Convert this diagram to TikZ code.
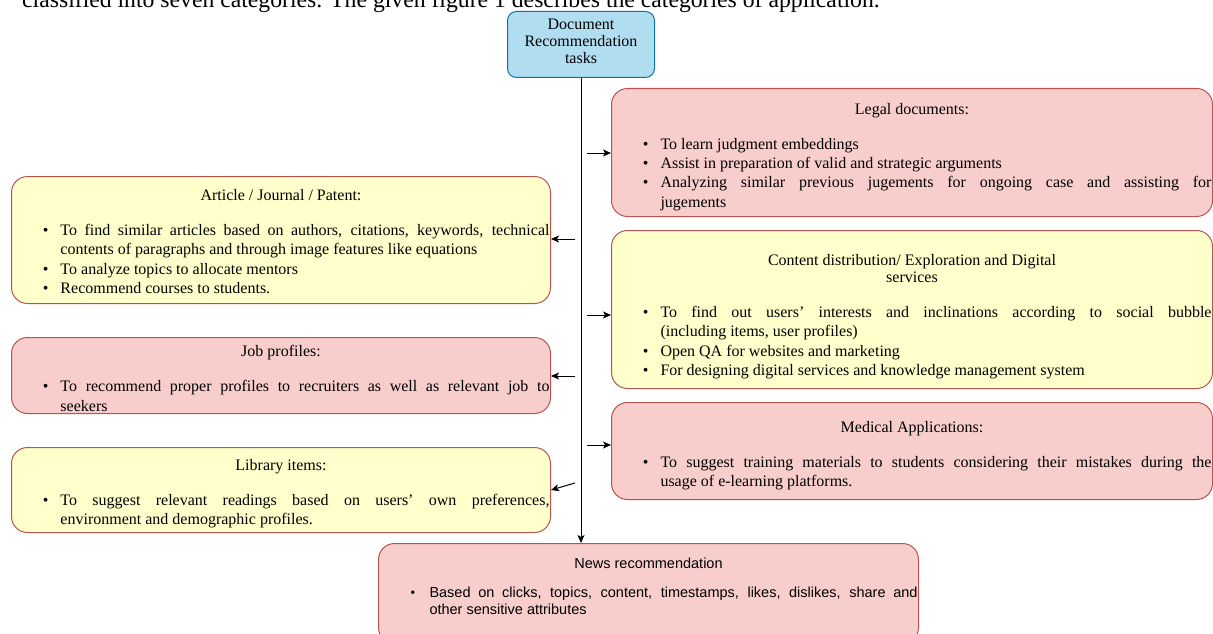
\documentclass[tikz,border=0pt]{standalone}
\usepackage{fontspec}
\setmainfont{Liberation Serif}
\newfontfamily\newsfont{Liberation Sans}
\usepackage{enumitem}
\usetikzlibrary{arrows.meta, positioning, calc}

\definecolor{pinkfill}{HTML}{F8CECC}
\definecolor{yellowfill}{HTML}{FFFFCC}
\definecolor{redline}{HTML}{B85450}
\definecolor{bluefill}{HTML}{B1DDF0}
\definecolor{blueline}{HTML}{10739E}

\setlist[itemize]{leftmargin=49pt, rightmargin=1pt, labelsep=12pt, itemsep=0pt, parsep=0pt, topsep=0pt, partopsep=0pt}
% title of a box; the strut makes room above it
\newcommand{\boxhead}[2][8pt]{{\centering\rule{0pt}{\dimexpr 11pt+#1\relax}#2\par}\vspace{16pt}}
\newcommand{\boxtail}[1]{\rule[-#1]{0pt}{#1}}
\hyphenpenalty=10000
\exhyphenpenalty=10000
\tolerance=9000

\begin{document}
\begin{tikzpicture}[
  x=1pt, y=-1pt,
  catbox/.style={draw=redline, line width=1pt, rounded corners=16pt, inner sep=0pt, anchor=north west, align=justify, font=\fontsize{16}{19.2}\selectfont},
  taskbox/.style={draw=blueline, fill=bluefill, line width=1pt, rounded corners=9pt, inner sep=0pt, anchor=north west, align=center, font=\fontsize{16}{17}\selectfont},
  arrow/.style={-{Stealth[length=8pt, width=7pt, inset=2pt]}, line width=1pt}
]
\useasboundingbox (0,0) rectangle (1213,634);
\clip (0,0) rectangle (1213,634);

% Page text above the figure
\node[anchor=base west, inner sep=0pt, font=\fontsize{23.7}{28}\selectfont] (caption) at (22,8) {classified into seven categories. The given figure 1 describes the categories of application.};

% Root
\node[taskbox, minimum width=147pt, minimum height=66pt, text width=147pt] (task) at (507,11) {Document\\Recommendation\\tasks\boxtail{7pt}};

% Right column
\node[catbox, fill=pinkfill, minimum width=601pt, minimum height=128pt, text width=601pt] (legal) at (611,88) {\boxhead[9pt]{Legal documents:}
\begin{itemize}
\item To learn judgment embeddings
\item Assist in preparation of valid and strategic arguments
\item Analyzing similar previous jugements for ongoing case and assisting for\linebreak jugements
\end{itemize}};
\node[catbox, fill=yellowfill, minimum width=601pt, minimum height=158pt, text width=601pt] (content) at (611,230) {\boxhead[14pt]{Content distribution/ Exploration and Digital\\[-2pt]services}
\begin{itemize}
\item To find out users' interests and inclinations according to social bubble\linebreak (including items, user profiles)
\item Open QA for websites and marketing
\item For designing digital services and knowledge management system
\end{itemize}};
\node[catbox, fill=pinkfill, minimum width=601pt, minimum height=97pt, text width=601pt] (medical) at (611,402) {\boxhead[10pt]{Medical Applications:}
\begin{itemize}
\item To suggest training materials to students considering their mistakes during the\linebreak usage of e-learning platforms.
\end{itemize}};

% Left column
\node[catbox, fill=yellowfill, minimum width=539pt, minimum height=127pt, text width=539pt] (article) at (11,176) {\boxhead[3pt]{Article / Journal / Patent:}
\begin{itemize}
\item To find similar articles based on authors, citations, keywords, technical contents of paragraphs and through image features like equations
\item To analyze topics to allocate mentors
\item Recommend courses to students.
\end{itemize}};
\node[catbox, fill=pinkfill, minimum width=539pt, minimum height=76pt, text width=539pt] (job) at (11,337) {\boxhead[6pt]{Job profiles:}
\begin{itemize}
\item To recommend proper profiles to recruiters as well as relevant job to\linebreak seekers
\end{itemize}};
\node[catbox, fill=yellowfill, minimum width=539pt, minimum height=85pt, text width=539pt] (library) at (11,447) {\boxhead[8pt]{Library items:}
\begin{itemize}
\item To suggest relevant readings based on users' own preferences,\linebreak environment and demographic profiles.
\end{itemize}};

% Bottom
\node[catbox, fill=pinkfill, minimum width=540pt, minimum height=100pt, text width=540pt, font=\newsfont\fontsize{14.5}{16.8}\selectfont] (news) at (378,543) {{\centering\rule{0pt}{21pt}News recommendation\par}\vspace{12pt}
\begin{itemize}[leftmargin=51pt, labelsep=14pt]
\item Based on clicks, topics, content, timestamps, likes, dislikes, share and\linebreak other sensitive attributes\boxtail{25pt}
\end{itemize}};

% Connections
\coordinate (to legal) at (587,153);
\coordinate (to article) at (575,239);
\coordinate (to content) at (587,315);
\coordinate (to job) at (575,376);
\coordinate (to medical) at (587,445);
\coordinate (to library) at (575,483);

\draw[arrow] (task.south) -- (task.south |- news.north);
\draw[arrow] (to legal) -- (to legal -| legal.west);
\draw[arrow] (to article) -- (to article -| article.east);
\draw[arrow] (to content) -- (to content -| content.west);
\draw[arrow] (to job) -- (to job -| job.east);
\draw[arrow] (to medical) -- (to medical -| medical.west);
\draw[arrow] (to library) -- (library.east);

\end{tikzpicture}
\end{document}
